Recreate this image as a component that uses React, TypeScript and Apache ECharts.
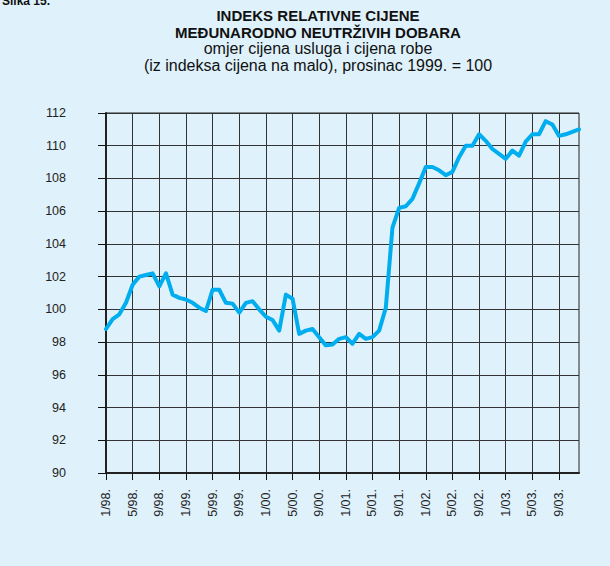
import React, { useEffect, useRef } from "react";
import * as echarts from "echarts";

const years = ["98", "99", "00", "01", "02", "03"];
const months = [1, 2, 3, 4, 5, 6, 7, 8, 9, 10, 11, 12];
const categories: string[] = [];
years.forEach((y) => months.forEach((m) => categories.push(`${m}/${y}.`)));

const indexValues = [
  98.8, 99.4, 99.7, 100.4, 101.5, 102.0, 102.1, 102.2, 101.4, 102.2, 100.9, 100.7,
  100.6, 100.4, 100.1, 99.9, 101.2, 101.2, 100.4, 100.35, 99.8, 100.4, 100.5, 100.0,
  99.55, 99.35, 98.7, 100.9, 100.65, 98.5, 98.7, 98.8, 98.3, 97.8, 97.85, 98.2,
  98.3, 97.9, 98.5, 98.2, 98.3, 98.7, 100.1, 105.0, 106.2, 106.3, 106.75, 107.7,
  108.7, 108.7, 108.5, 108.2, 108.4, 109.3, 110.0, 110.0, 110.7, 110.3, 109.8, 109.5,
  109.2, 109.7, 109.4, 110.25, 110.7, 110.7, 111.5, 111.3, 110.6, 110.7, 110.85, 111.0,
];

const titleLines = [
  "INDEKS RELATIVNE CIJENE",
  "MEĐUNARODNO NEUTRŽIVIH DOBARA",
];
const subtitleLines = [
  "omjer cijena usluga i cijena robe",
  "(iz indeksa cijena na malo), prosinac 1999. = 100",
];
const figureLabel = "Slika 15.";

const FONT = "'Liberation Sans', Arial, Helvetica, sans-serif";

export default function App() {
  const ref = useRef<HTMLDivElement>(null);
  useEffect(() => {
    if (!ref.current) return;
    const chart = echarts.init(ref.current, null, { renderer: "svg" });
    const cx = 318;
    chart.setOption({
      animation: false,
      backgroundColor: "#dff1fb",
      textStyle: { fontFamily: FONT },
      graphic: [
        {
          type: "text",
          left: 2,
          top: -5,
          style: { text: figureLabel, font: `bold 12px ${FONT}`, fill: "#111" },
        },
        ...titleLines.map((t, i) => ({
          type: "text",
          x: cx,
          y: 15.5 + i * 16.5,
          style: {
            text: t,
            font: `bold 15px ${FONT}`,
            fill: "#111",
            textAlign: "center",
            textVerticalAlign: "middle",
          },
        })),
        ...subtitleLines.map((t, i) => ({
          type: "text",
          x: cx,
          y: 48.5 + i * 16.5,
          style: {
            text: t,
            font: `16px ${FONT}`,
            fill: "#111",
            textAlign: "center",
            textVerticalAlign: "middle",
          },
        })),
      ],
      grid: {
        left: 106,
        right: 31,
        top: 113,
        bottom: 93,
        show: true,
        borderColor: "#222",
        borderWidth: 1,
        backgroundColor: "transparent",
        containLabel: false,
      },
      xAxis: {
        type: "category",
        data: categories,
        boundaryGap: false,
        axisLine: { show: true, onZero: false, lineStyle: { color: "#222", width: 2 } },
        axisTick: { show: true, inside: false, interval: 3, length: 7, lineStyle: { color: "#111", width: 1 } },
        axisLabel: {
          interval: 3,
          rotate: 90,
          margin: 16,
          fontSize: 12.5,
          color: "#222",
          fontFamily: FONT,
        },
        splitLine: { show: true, interval: 3, lineStyle: { color: "#333", width: 1 } },
      },
      yAxis: {
        type: "value",
        min: 90,
        max: 112,
        interval: 2,
        axisLine: { show: true, onZero: false, lineStyle: { color: "#222", width: 2 } },
        axisTick: { show: true, inside: false, length: 8, lineStyle: { color: "#111", width: 1 } },
        axisLabel: { show: true, inside: false, margin: 40, fontSize: 12.5, color: "#222", fontFamily: FONT },
        splitLine: { show: true, lineStyle: { color: "#333", width: 1 } },
      },
      series: [
        {
          type: "line",
          data: indexValues,
          showSymbol: false,
          symbol: "none",
          lineStyle: { color: "#00aeef", width: 4, join: "round", cap: "round" },
          z: 5,
        },
      ],
    });
    return () => chart.dispose();
  }, []);
  return (
    <div
      ref={ref}
      style={{ position: "absolute", left: 0, top: 0, width: 610, height: 566 }}
    />
  );
}
